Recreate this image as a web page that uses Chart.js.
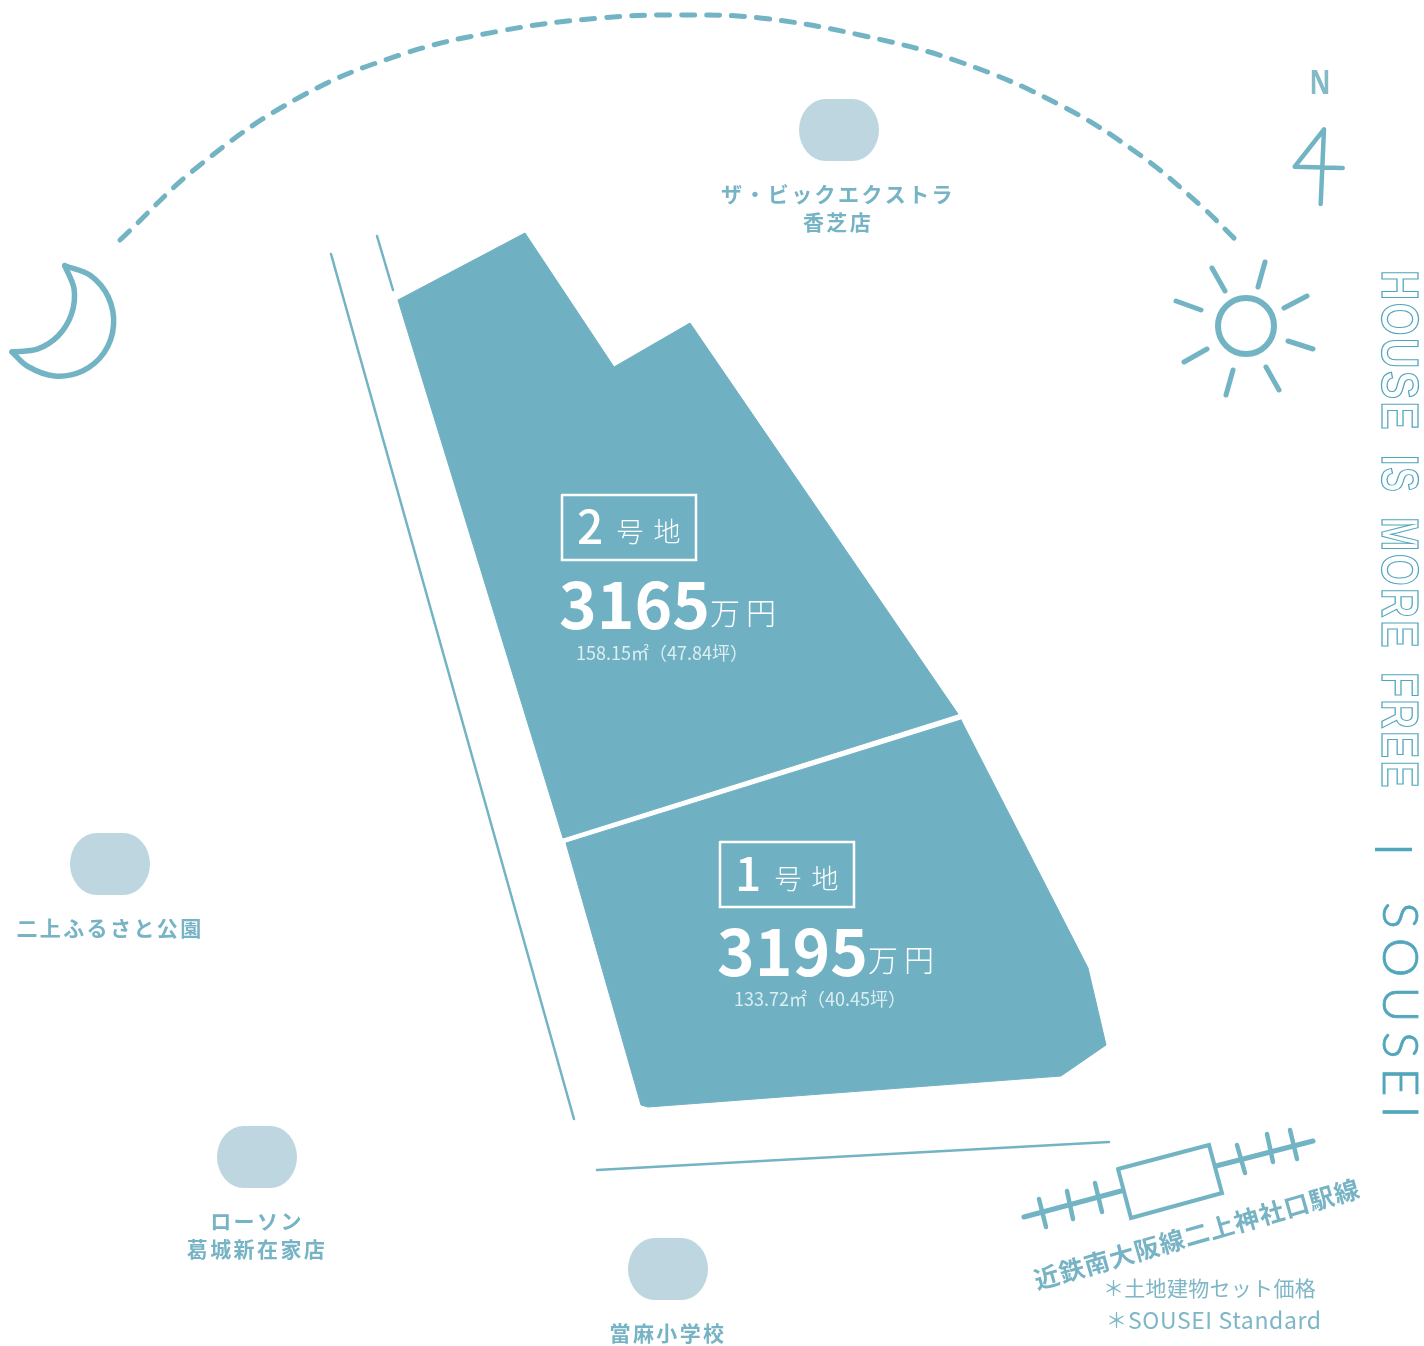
<!DOCTYPE html>
<html lang="ja">
<head>
<meta charset="utf-8">
<title>区画図</title>
<script src="https://cdn.jsdelivr.net/npm/chart.js@4/dist/chart.umd.min.js"></script>
<style>
  html, body { margin: 0; padding: 0; background: #fff; }
  canvas { display: block; }
</style>
</head>
<body>
<canvas id="mapa" width="1424" height="1346"></canvas>
<script>
// Datos (x, y en pixeles del plano)
const lot2 = [[398,300],[525,233],[614,367],[690,323],[958,714],[563,838],[398,300]];
const lot1 = [[961,720],[1088,968],[1106,1045],[1061,1076],[648,1107],[641,1105],[566,843],[961,720]];
const roadWest = [[331,254],[574,1119]];
const roadNorth = [[377,236],[393,290]];
const roadSouth = [[597,1170],[1109,1142]];
const arc = [[120,240],[200,165],[300,97],[400,55],[500,31],[600,18],[680,15],[760,18],[860,35],[960,62],[1060,105],[1140,155],[1200,205],[1236,240]];
const moonOuter = [[64.8,265.7],[90.5,275.5],[108.5,297.5],[113.5,325.8],[104,352.8],[82.5,371],[54.5,376],[28,366.5],[12,352]];
const moonInner = [[64.8,265.7],[74.1,289.1],[71.4,314.4],[58,336],[37.3,349.1],[12,352]];
const sunCenter = [[1246,326]];
const sunRays = [
  [[1212,268],[1225,291]], [[1265,262],[1258,287]], [[1307,296],[1284,308]], [[1288,341],[1313,349]],
  [[1266,367],[1279,390]], [[1233,370],[1226,395]], [[1207,349],[1184,362]], [[1201,310],[1176,301]]
];
const northArrow = [[1342.7,168],[1294.7,166.7],[1324,129.3],[1320.7,204]];
const trackLeft = [[1024,1217],[1121,1191]];
const trackRight = [[1216,1166],[1313,1141]];
const sleepers = [
  [[1039,1199],[1046,1227]], [[1067,1191],[1073,1219]], [[1095,1183],[1102,1212]],
  [[1237,1145],[1245,1173]], [[1267,1134],[1273,1162]], [[1290,1130],[1297,1159]]
];
const station = [[1118,1169],[1209,1145],[1222,1193],[1131,1218],[1118,1169]];
const box2 = [[562,495],[696,495],[696,560],[562,560],[562,495]];
const box1 = [[720,842],[854,842],[854,907],[720,907],[720,842]];
const separator = [[1375,849.5],[1412,849.5]];
const places = [[839,130],[110,864],[257,1157],[668,1269]];

const placeLabels = [
  ['ザ・ビックエクストラ', 838, 194], ['香芝店', 838, 222], ['二上ふるさと公園', 110, 928],
  ['ローソン', 257, 1221], ['葛城新在家店', 257, 1249], ['當麻小学校', 668, 1333]
];
const lotNumbers = ['2', '1'];
const lotPrices = ['3165', '3195'];
const lotAreas = ['158.15㎡（47.84坪）', '133.72㎡（40.45坪）'];
const sloganWords = [['HOUSE', 270, 162], ['IS', 455, 39], ['MORE', 517, 133], ['FREE', 672, 118]];

const LINE = '#72B4C4';
const LOT = '#6FB0C3';
const PLACE = '#BDD6E0';
const TEXT = '#76B3C4';
const SIDE = '#52A6BC';
const JP = "'Noto Sans CJK JP'";
const JPM = "'Noto Sans CJK JP Medium', 'Noto Sans CJK JP'";

function line(points, color, width, extra) {
  return Object.assign({
    data: points.map(p => ({ x: p[0], y: p[1] })),
    showLine: true,
    borderColor: color,
    borderWidth: width,
    borderCapStyle: 'round',
    borderJoinStyle: 'round',
    pointRadius: 0,
    fill: false
  }, extra || {});
}

// el primer dataset queda encima
const datasets = [
  line(box2, '#fff', 2.5, { borderJoinStyle: 'miter' }),
  line(box1, '#fff', 2.5, { borderJoinStyle: 'miter' }),
  line(lot2, LOT, 1, { fill: 'shape', backgroundColor: LOT, borderJoinStyle: 'miter' }),
  line(lot1, LOT, 1, { fill: 'shape', backgroundColor: LOT, borderJoinStyle: 'miter' }),
  line(roadWest, LINE, 2.5),
  line(roadNorth, LINE, 2.5),
  line(roadSouth, LINE, 2.5),
  line(arc, LINE, 5, { tension: 0.4, borderDash: [13, 12] }),
  line(moonOuter, LINE, 5.5, { tension: 0.35 }),
  line(moonInner, LINE, 5.5, { tension: 0.32 }),
  line(northArrow, LINE, 4.5),
  line(trackLeft, LINE, 5),
  line(trackRight, LINE, 5),
  line(station, LINE, 4, { borderJoinStyle: 'miter' }),
  line(separator, SIDE, 3.5, { borderCapStyle: 'butt' }),
  {
    data: sunCenter.map(p => ({ x: p[0], y: p[1] })),
    pointRadius: 28,
    pointBorderWidth: 6,
    pointBorderColor: LINE,
    pointBackgroundColor: 'rgba(0,0,0,0)'
  }
];
sunRays.forEach(r => datasets.push(line(r, LINE, 5)));
sleepers.forEach(r => datasets.push(line(r, LINE, 4.5)));

function put(ctx, text, x, y, font, color, opt) {
  opt = opt || {};
  ctx.save();
  ctx.translate(x, y);
  if (opt.angle) ctx.rotate(opt.angle * Math.PI / 180);
  ctx.font = font;
  ctx.fillStyle = color;
  ctx.textAlign = opt.align || 'center';
  ctx.textBaseline = opt.baseline || 'middle';
  ctx.letterSpacing = (opt.spacing || 0) + 'px';
  if (opt.stroke) {
    ctx.strokeStyle = color;
    ctx.lineWidth = opt.stroke;
    ctx.strokeText(text, 0, 0, opt.maxWidth);
  } else if (opt.maxWidth) {
    ctx.fillText(text, 0, 0, opt.maxWidth);
  } else {
    ctx.fillText(text, 0, 0);
  }
  ctx.restore();
}

const labelsPlugin = {
  id: 'etiquetas',
  afterDatasetsDraw(chart) {
    const ctx = chart.ctx;
    const sx = chart.scales.x, sy = chart.scales.y;
    const X = v => sx.getPixelForValue(v);
    const Y = v => sy.getPixelForValue(v);

    // manchas de los lugares
    places.forEach(p => {
      ctx.save();
      ctx.fillStyle = PLACE;
      ctx.beginPath();
      ctx.roundRect(X(p[0]) - 40, Y(p[1]) - 31, 80, 62, [{ x: 27, y: 31 }]);
      ctx.fill();
      ctx.restore();
    });

    placeLabels.forEach(l => put(ctx, l[0], X(l[1]), Y(l[2]), `700 21px ${JP}`, TEXT, { spacing: 2.4 }));

    // rotulos de los lotes
    [[0, 0], [158, 347]].forEach((off, i) => {
      const dx = off[0], dy = off[1];
      put(ctx, lotNumbers[i], X(590 + dx), Y(527 + dy), `500 46px ${JPM}`, '#fff');
      put(ctx, '号', X(630 + dx), Y(532 + dy), `300 27px ${JP}`, '#fff');
      put(ctx, '地', X(667 + dx), Y(532 + dy), `300 27px ${JP}`, '#fff');
      put(ctx, lotPrices[i], X(559 + dx), Y(605 + dy), `700 64px ${JP}`, '#fff', { align: 'left' });
      put(ctx, '万', X(725 + dx), Y(613 + dy), `300 30px ${JP}`, '#fff');
      put(ctx, '円', X(761 + dx), Y(613 + dy), `300 30px ${JP}`, '#fff');
      put(ctx, lotAreas[i], X(576 + dx), Y(653 + dy - (i ? 1 : 0)), `400 18px ${JP}`, '#DCEEF2', { align: 'left' });
    });

    put(ctx, 'N', X(1320), Y(84), `700 34px 'Noto Sans'`, '#84BAC8', { maxWidth: 21 });
    put(ctx, '近鉄南大阪線二上神社口駅線', X(1197), Y(1234), `700 25px ${JP}`, TEXT, { angle: -16, spacing: 1 });
    put(ctx, '＊土地建物セット価格', X(1103), Y(1288), `400 21px ${JP}`, '#7DB6C6', { align: 'left', spacing: 0.3 });
    put(ctx, '＊', X(1106), Y(1320), `400 21px ${JP}`, '#7DB6C6', { align: 'left' });
    put(ctx, 'SOUSEI Standard', X(1128), Y(1320), `400 23px ${JP}`, '#7DB6C6', { align: 'left', spacing: 0.6 });

    // texto vertical de la derecha
    sloganWords.forEach(w => put(ctx, w[0], X(1382), Y(w[1]), `700 52px 'Liberation Sans'`, SIDE,
      { angle: 90, align: 'left', baseline: 'alphabetic', stroke: 1.25, spacing: 3, maxWidth: w[2] }));
    const soft = { angle: 90, align: 'left', baseline: 'alphabetic', spacing: 9 };
    put(ctx, 'SOUSEI', X(1383), Y(902), `300 50px Lato`, SIDE, soft);
    put(ctx, 'SOUSEI', X(1383), Y(902), `300 50px Lato`, SIDE, Object.assign({ stroke: 0.8 }, soft));
  }
};

new Chart(document.getElementById('mapa').getContext('2d'), {
  type: 'scatter',
  data: { datasets },
  options: {
    responsive: false,
    animation: false,
    devicePixelRatio: 1,
    layout: { padding: 0, autoPadding: false },
    scales: {
      x: { type: 'linear', min: 0, max: 1424, display: false },
      y: { type: 'linear', min: 0, max: 1346, reverse: true, display: false }
    },
    plugins: { legend: { display: false }, tooltip: { enabled: false } }
  },
  plugins: [labelsPlugin]
});
</script>
</body>
</html>
